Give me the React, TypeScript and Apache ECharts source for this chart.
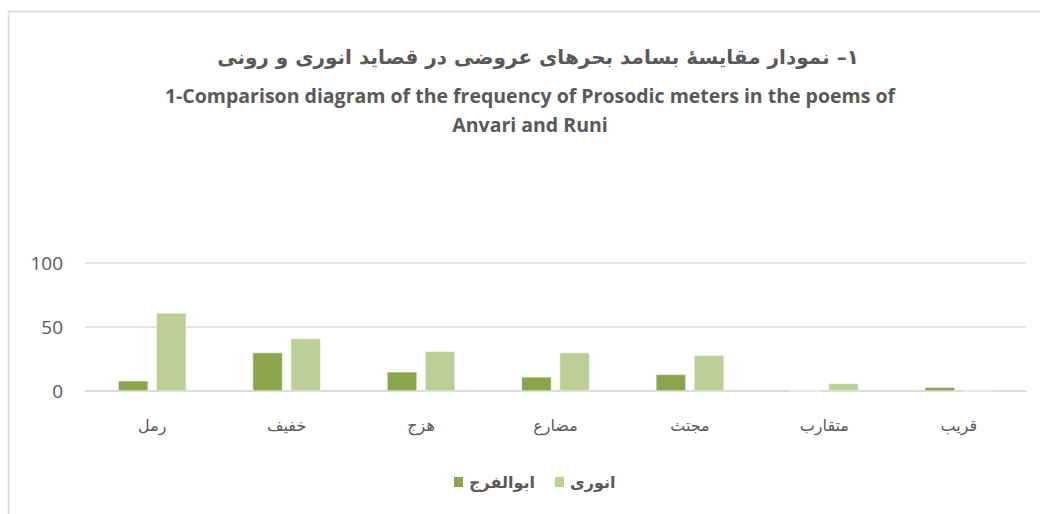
import React, { useEffect, useRef } from "react";
import * as echarts from "echarts";

const categories = ["رمل", "خفیف", "هزج", "مضارع", "مجتث", "متقارب", "قریب"];
const abolfaraj = [8, 30, 15, 11, 13, 0, 3];
const anvari = [61, 41, 31, 30, 28, 6, 0];
const seriesNames = ["ابوالفرج", "انوری"];
const yTicks = { min: 0, max: 100, interval: 50 };
const titleFa = "\u202B۱– نمودار مقایسهٔ بسامد بحرهای عروضی در قصاید انوری و رونی\u202C";
const titleEn1 = "1-Comparison diagram of the frequency of Prosodic meters in the poems of";
const titleEn2 = "Anvari and Runi";

export default function App() {
  const ref = useRef<HTMLDivElement>(null);
  useEffect(() => {
    if (!ref.current) return;
    const chart = echarts.init(ref.current, null, { renderer: "svg" });
    const enStyle = {
      fontFamily: "Open Sans",
      fontWeight: "bold",
      fontSize: 19.5,
      fill: "#595959",
      textAlign: "center",
      textVerticalAlign: "middle",
    };
    chart.setOption({
      animation: false,
      backgroundColor: "#ffffff",
      graphic: [
        {
          type: "rect",
          shape: { x: 8.5, y: 11.5, width: 1100, height: 600 },
          style: { fill: "none", stroke: "#d9d9d9", lineWidth: 1.5 },
          silent: true,
        },
        {
          type: "text",
          x: 538,
          y: 57,
          style: {
            text: titleFa,
            fontFamily: "DejaVu Sans",
            fontWeight: "bold",
            fontSize: 20,
            fill: "#595959",
            textAlign: "center",
            textVerticalAlign: "middle",
          },
        },
        { type: "text", x: 530, y: 95, style: { ...enStyle, text: titleEn1 } },
        { type: "text", x: 530, y: 124, style: { ...enStyle, text: titleEn2 } },
      ],
      legend: {
        data: seriesNames,
        left: 452,
        top: 474,
        padding: 0,
        itemWidth: 11,
        itemHeight: 12,
        itemGap: 18,
        icon: "rect",
        textStyle: {
          fontFamily: "DejaVu Sans",
          fontWeight: "bold",
          fontSize: 16,
          color: "#595959",
        },
      },
      grid: { left: 85, right: 14, top: 263, bottom: 123, containLabel: false },
      xAxis: {
        type: "category",
        data: categories,
        axisLine: { lineStyle: { color: "#d9d9d9", width: 1.5 } },
        axisTick: { show: false },
        axisLabel: {
          fontFamily: "DejaVu Sans",
          fontSize: 16,
          color: "#595959",
          margin: 26,
        },
      },
      yAxis: {
        type: "value",
        min: yTicks.min,
        max: yTicks.max,
        interval: yTicks.interval,
        axisLine: { show: false },
        axisTick: { show: false },
        splitLine: { lineStyle: { color: "#d9d9d9", width: 1.5 } },
        axisLabel: {
          fontFamily: "Open Sans",
          fontSize: 19,
          color: "#595959",
          margin: 22,
        },
      },
      series: [
        {
          name: seriesNames[0],
          type: "bar",
          data: abolfaraj,
          barWidth: 30,
          barGap: "27%",
          itemStyle: { color: "#8ba54f", borderColor: "#ffffff", borderWidth: 0.5 },
        },
        {
          name: seriesNames[1],
          type: "bar",
          data: anvari,
          barWidth: 30,
          barGap: "27%",
          itemStyle: { color: "#bbcf97", borderColor: "#ffffff", borderWidth: 0.5 },
        },
      ],
    });
    return () => chart.dispose();
  }, []);
  return (
    <div
      ref={ref}
      style={{ position: "absolute", left: 0, top: 0, width: 1040, height: 514 }}
    />
  );
}
